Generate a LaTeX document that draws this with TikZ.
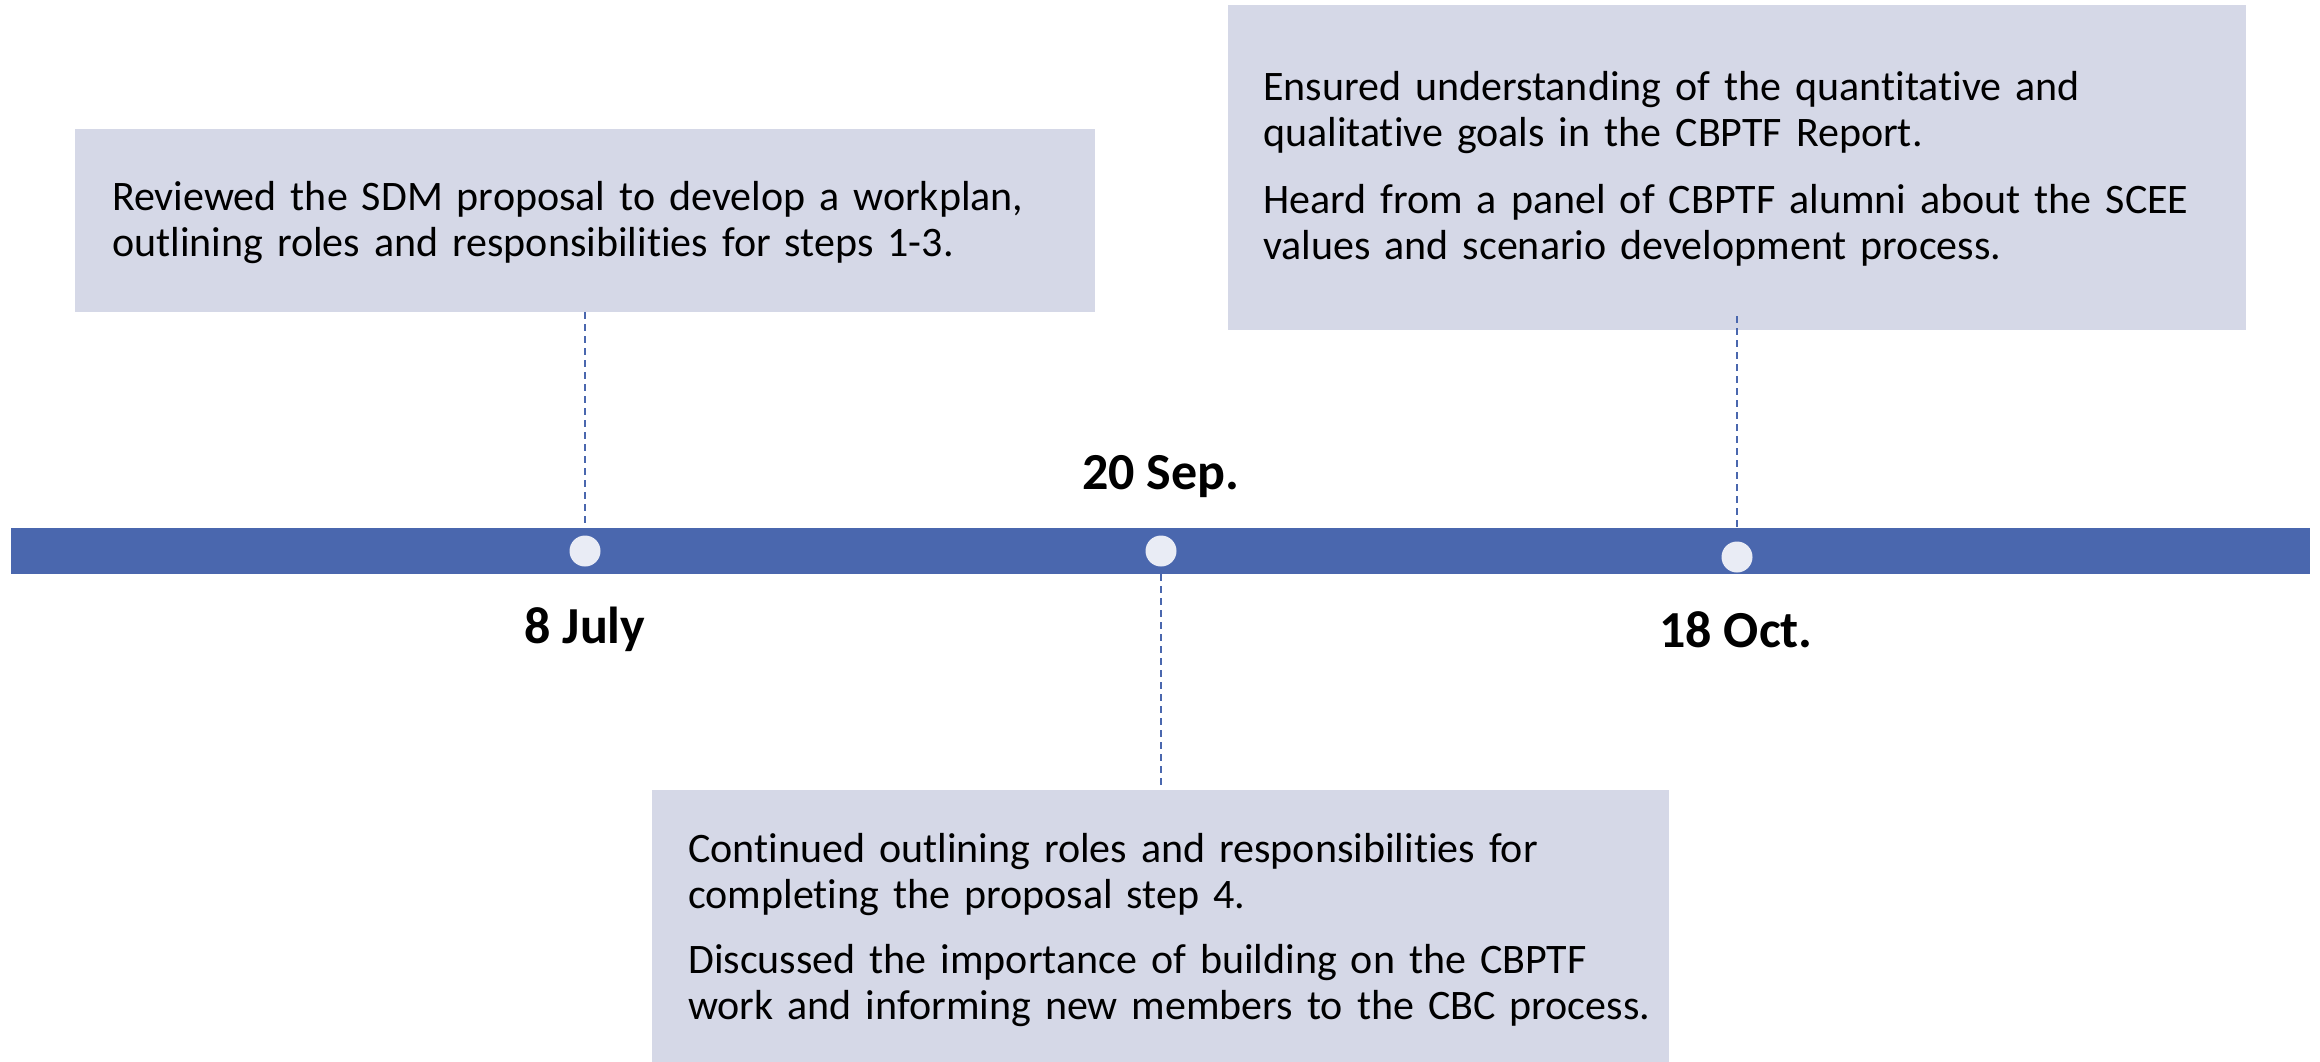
\documentclass[tikz,border=0pt]{standalone}
\usepackage{fontspec}
\setmainfont{Carlito}[Ligatures={NoCommon,NoContextual}]
\definecolor{barblue}{HTML}{4A67AE}
\definecolor{boxfill}{HTML}{D5D8E7}
\definecolor{dotfill}{HTML}{E9ECF5}
\begin{document}
\begin{tikzpicture}[x=1pt,y=-1pt,
  box/.style={fill=boxfill, draw=none, inner sep=0pt, anchor=north west},
  txt/.style={font=\fontsize{42}{46}\selectfont, anchor=base west, inner sep=0pt, align=left, text width=1000pt},
  lbl/.style={font=\fontsize{52}{60}\selectfont\bfseries, anchor=base, inner sep=0pt},
  dotnode/.style={circle, fill=dotfill, draw=none, minimum size=31pt, inner sep=0pt},
  conn/.style={draw=barblue, line width=1.3pt, dash pattern=on 7pt off 5pt}]
\useasboundingbox (0,0) rectangle (2320,1061);
\node[box, minimum width=1020pt, minimum height=183pt] (b1) at (75,129) {};
\node[box, minimum width=1018pt, minimum height=325pt] (b2) at (1228,5) {};
\node[box, minimum width=1017pt, minimum height=280pt] (b3) at (652,790) {};
\node[fill=barblue, minimum width=2299pt, minimum height=46pt, inner sep=0pt, anchor=north west] (bar) at (11,528) {};
\node[dotnode] (d1) at (585,551) {};
\node[dotnode] (d2) at (1161,551) {};
\node[dotnode] (d3) at (1737,557) {};
\draw[conn] (b1.south -| d1) -- (d1 |- bar.north);
\draw[conn] ([yshift=14pt]b2.south -| d3) -- (d3 |- bar.north);
\draw[conn] (d2 |- bar.south) -- (b3.north -| d2);
\node[lbl] (l1) at (585,643) {8 July};
\node[lbl] (l2) at (1161,489) {20 Sep.};
\node[lbl] (l3) at (1736,647) {18 Oct.};
\node[txt] (t1) at (112,210) {Reviewed the SDM proposal to develop a workplan,\\outlining roles and responsibilities for steps 1-3.};
\node[txt] (t2a) at (1263,100) {Ensured understanding of the quantitative and\\qualitative goals in the CBPTF Report.};
\node[txt] (t2b) at (1263,213) {Heard from a panel of CBPTF alumni about the SCEE\\values and scenario development process.};
\node[txt] (t3a) at (688,862) {Continued outlining roles and responsibilities for\\completing the proposal step 4.};
\node[txt] (t3b) at (688,973) {Discussed the importance of building on the CBPTF\\work and informing new members to the CBC process.};
\end{tikzpicture}
\end{document}
